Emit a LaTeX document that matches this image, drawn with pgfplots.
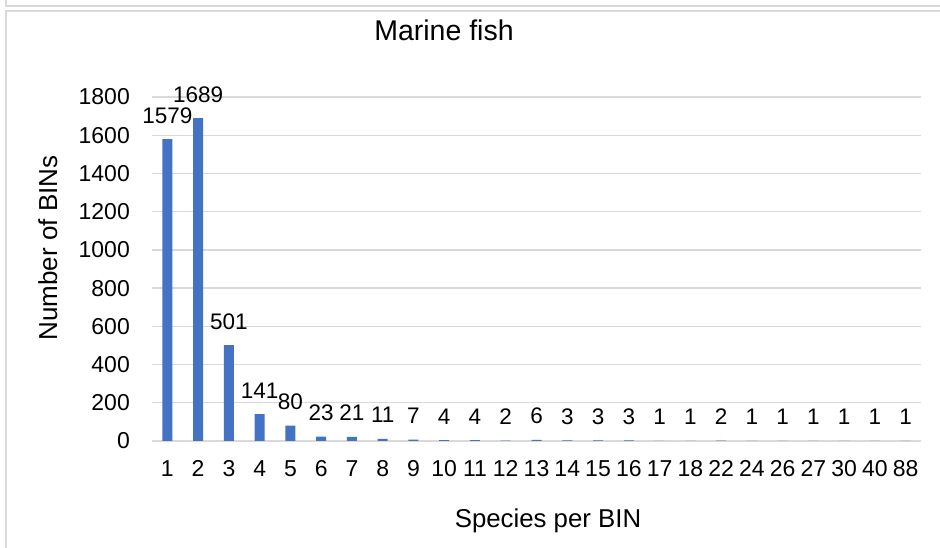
\documentclass[border=0pt]{standalone}
\usepackage{fontspec}
\setmainfont{Liberation Sans}
\usepackage{pgfplots}
\pgfplotsset{compat=1.18}
\definecolor{barblue}{HTML}{4472C4}
\definecolor{gridgray}{HTML}{D9D9D9}
\definecolor{framegray}{HTML}{D9D9D9}
\begin{document}
\begin{tikzpicture}[x=1bp,y=1bp]
\useasboundingbox (0,0) rectangle (940,548);
\fill[white] (0,0) rectangle (940,548);
\draw[framegray, line width=1.5bp] (6,548) -- (6,542) -- (940,542);
\draw[framegray, line width=1.5bp] (940,537) -- (6,537) -- (6,0);
\begin{axis}[
  at={(152bp,107bp)}, anchor=south west,
  scale only axis, width=769bp, height=344bp,
  xmin=0.5, xmax=25.5, ymin=0, ymax=1800,
  ytick={0,200,...,1800},
  xtick={1,...,25},
  xticklabels={1,2,3,4,5,6,7,8,9,10,11,12,13,14,15,16,17,18,22,24,26,27,30,40,88},
  ymajorgrids, grid style={gridgray, line width=1.3bp},
  axis line style={draw=none}, major tick length=0pt,
  /pgf/number format/.cd, 1000 sep={}, assume math mode=true, /pgfplots/.cd,
  tick label style={font=\fontsize{23bp}{26bp}\selectfont, inner sep=0pt},
  xticklabel style={anchor=base, yshift=-36bp},
  yticklabel style={anchor=east, xshift=-22bp},
  ybar, bar width=10bp,
  nodes near coords,
  every node near coord/.append style={font=\fontsize{22.5bp}{26bp}\selectfont, anchor=base, inner sep=0pt, yshift=16bp},
  clip=false,
]
\addplot[fill=barblue, draw=none] coordinates {
(1,1579) (2,1689) (3,501) (4,141) (5,80) (6,23) (7,21) (8,11) (9,7) (10,4)
(11,4) (12,2) (13,6) (14,3) (15,3) (16,3) (17,1) (18,1) (19,2) (20,1)
(21,1) (22,1) (23,1) (24,1) (25,1)
};
\end{axis}
\node[anchor=base, font=\fontsize{28.5bp}{32bp}\selectfont, inner sep=0pt] at (444,507) {Marine fish};
\node[anchor=base, font=\fontsize{25.8bp}{30bp}\selectfont, inner sep=0pt] at (548,20) {Species per BIN};
\node[anchor=base, rotate=90, font=\fontsize{26bp}{30bp}\selectfont, inner sep=0pt] at (57,300) {Number of BINs};
\end{tikzpicture}
\end{document}
